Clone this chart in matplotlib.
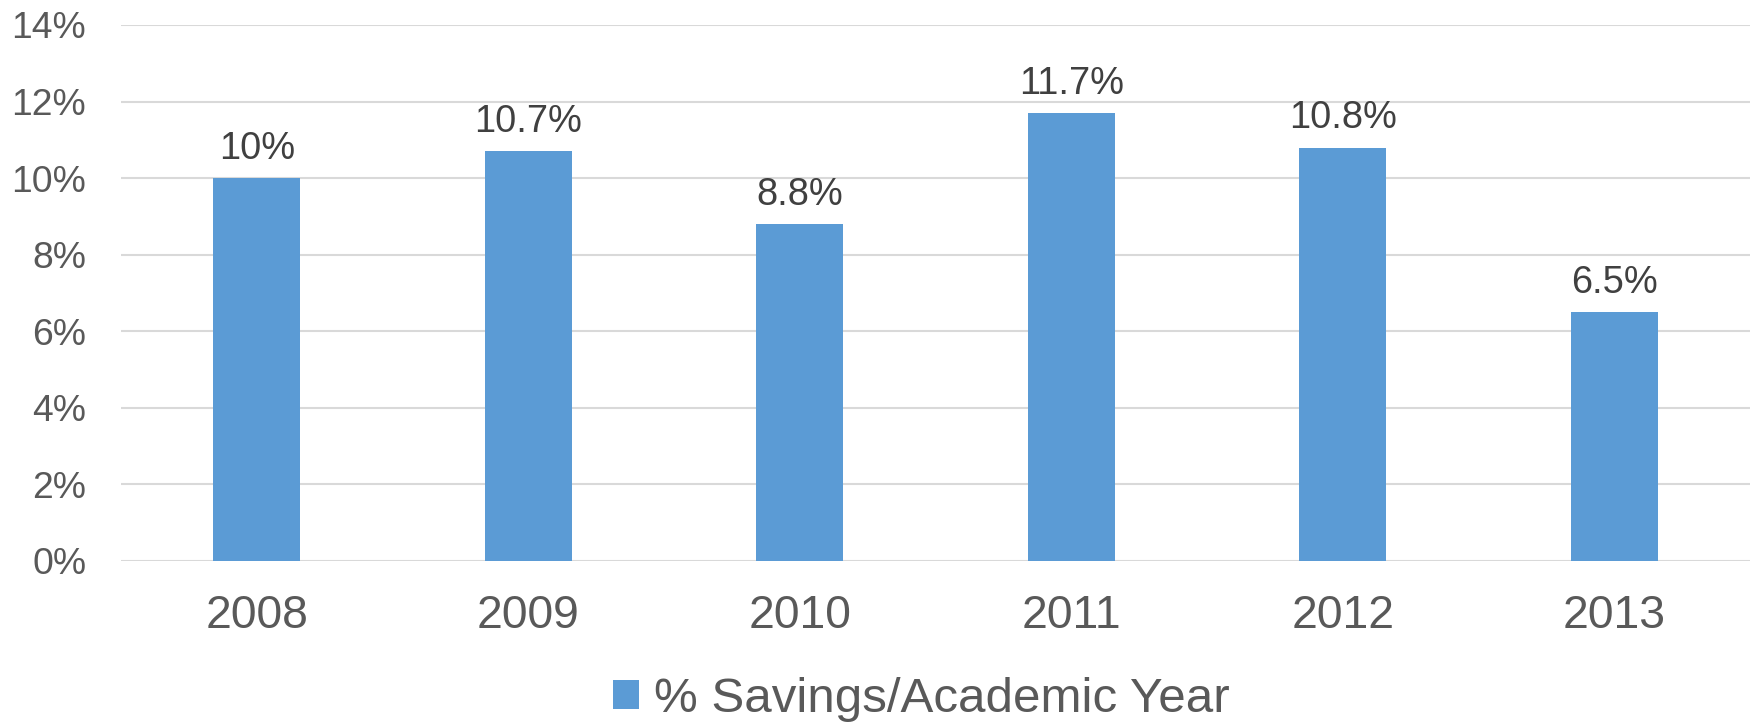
import matplotlib
matplotlib.use("Agg")
import matplotlib.pyplot as plt
from matplotlib.ticker import FuncFormatter

years = ["2008", "2009", "2010", "2011", "2012", "2013"]
savings = [10.0, 10.7, 8.8, 11.7, 10.8, 6.5]
labels = ["10%", "10.7%", "8.8%", "11.7%", "10.8%", "6.5%"]
series_name = "% Savings/Academic Year"

plt.rcParams['font.family'] = ['Liberation Sans', 'DejaVu Sans']

fig = plt.figure(figsize=(17.53, 7.27), dpi=100)
ax = fig.add_axes([121/1753, 1-561/727, (1750-121)/1753, (561-25)/727])

x = list(range(len(years)))
bars = ax.bar(x, savings, width=0.32, color="#5B9BD5", zorder=3, label=series_name)
for xi, v, lab in zip(x, savings, labels):
    ax.annotate(lab, (xi, v), xytext=(0, 8), textcoords="offset points",
                ha="center", va="bottom", fontsize=27.4, color="#404040")

ax.set_xlim(-0.5, len(years) - 0.5)
ax.set_ylim(0, 14)
ax.set_yticks(range(0, 15, 2))
ax.yaxis.set_major_formatter(FuncFormatter(lambda v, p: f"{int(v)}%"))
ax.set_xticks(x)
ax.set_xticklabels(years)
ax.tick_params(axis="y", length=0, pad=25, labelsize=26.8, labelcolor="#595959")
ax.tick_params(axis="x", length=0, pad=24, labelsize=33.3, labelcolor="#595959")
ax.grid(axis="y", color="#D9D9D9", linewidth=1.5, zorder=0)
for s in ax.spines.values():
    s.set_visible(False)

leg = fig.legend(handles=[bars], labels=[series_name], loc="center",
                 bbox_to_anchor=(921/1753, 1-699/727), frameon=False, fontsize=35.5,
                 handlelength=0.53, handleheight=0.53, handletextpad=0.3,
                 labelcolor="#595959")

fig.savefig("out.png", dpi=100)
